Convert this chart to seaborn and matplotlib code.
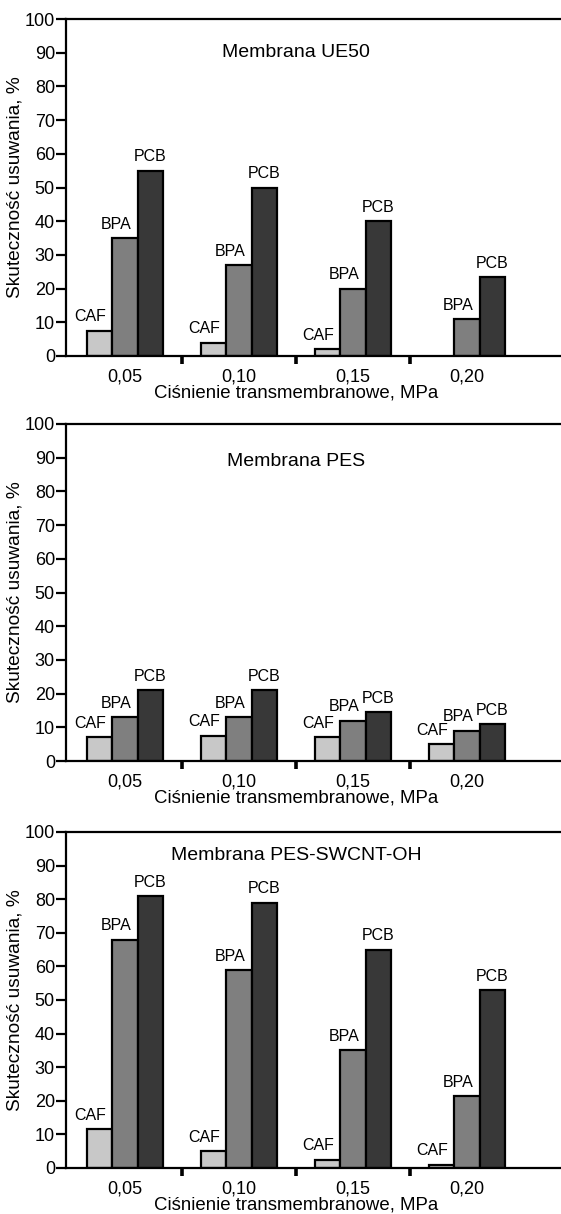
import matplotlib
matplotlib.use("Agg")
import matplotlib.pyplot as plt
import matplotlib.transforms as mtransforms
import pandas as pd
import seaborn as sns

# --- data ---
pressures = ["0,05", "0,10", "0,15", "0,20"]
compounds = ["CAF", "BPA", "PCB"]
titles = ["Membrana UE50", "Membrana PES", "Membrana PES-SWCNT-OH"]
title_y = [90, 89, 93]

ue50_caf = [7.5, 4.0, 2.0, float("nan")]
ue50_bpa = [35.0, 27.0, 20.0, 11.0]
ue50_pcb = [55.0, 50.0, 40.0, 23.5]

pes_caf = [7.0, 7.5, 7.0, 5.0]
pes_bpa = [13.0, 13.0, 12.0, 9.0]
pes_pcb = [21.0, 21.0, 14.5, 11.0]

swcnt_caf = [11.5, 5.0, 2.5, 1.0]
swcnt_bpa = [68.0, 59.0, 35.0, 21.5]
swcnt_pcb = [81.0, 79.0, 65.0, 53.0]

panels = [
    (ue50_caf, ue50_bpa, ue50_pcb),
    (pes_caf, pes_bpa, pes_pcb),
    (swcnt_caf, swcnt_bpa, swcnt_pcb),
]

colors = {"CAF": "#c8c8c8", "BPA": "#7f7f7f", "PCB": "#383838"}
label_dx = {"CAF": -6.5, "BPA": -6.5, "PCB": 0}

sns.set_style("white")
plt.rcParams["font.family"] = ["Liberation Sans", "DejaVu Sans"]
plt.rcParams["text.color"] = "black"
plt.rcParams["axes.labelcolor"] = "black"
plt.rcParams["xtick.color"] = "black"
plt.rcParams["ytick.color"] = "black"

W, H = 561, 1214
fig = plt.figure(figsize=(W / 100, H / 100), dpi=100)

# axes boxes in pixels: (top, bottom)
boxes = [(19, 356), (424, 761), (832, 1168)]
left_px = 66

for (caf, bpa, pcb), title, ty, (top, bot) in zip(panels, titles, title_y, boxes):
    ax = fig.add_axes([left_px / W, 1 - bot / H, 1 - left_px / W, (bot - top) / H])

    rows = []
    for name, vals in zip(compounds, (caf, bpa, pcb)):
        for p, v in zip(pressures, vals):
            rows.append({"pressure": p, "compound": name, "value": v})
    df = pd.DataFrame(rows)

    sns.barplot(data=df, x="pressure", y="value", hue="compound",
                order=pressures, hue_order=compounds, palette=colors,
                width=0.67, gap=0, edgecolor="black", linewidth=1.6,
                saturation=1, ax=ax, legend=False)

    for name, cont in zip(compounds, ax.containers):
        for bar in cont:
            h = bar.get_height()
            if h != h:
                continue
            ax.annotate(name, (bar.get_x() + bar.get_width() / 2, h),
                        xytext=(label_dx[name], 4.5), textcoords="offset points",
                        ha="center", va="bottom", fontsize=11.5)

    ax.set_xlim(-0.518, 3.825)
    ax.set_ylim(0, 100)
    ax.set_yticks(range(0, 101, 10))
    ax.text(1.5, ty, title, ha="center", va="center", fontsize=14)

    for s in ["left", "bottom", "top"]:
        ax.spines[s].set_visible(True)
        ax.spines[s].set_color("black")
        ax.spines[s].set_linewidth(1.6)
    ax.spines["right"].set_visible(False)

    ax.set_xticks([0.5, 1.5, 2.5], minor=True)
    ax.tick_params(axis="x", which="major", length=0, pad=9, labelsize=13)
    ax.tick_params(axis="x", which="minor", direction="out", length=6, width=2.6,
                   color="black", bottom=True)
    ax.tick_params(axis="y", which="major", direction="out", length=7, width=1.6,
                   color="black", pad=1, labelsize=13, left=True)

    ax.set_xlabel("Ciśnienie transmembranowe, MPa", fontsize=13.4)
    ax.set_ylabel("Skuteczność usuwania, %", fontsize=13.8)
    trans = mtransforms.blended_transform_factory(ax.transData, ax.transAxes)
    ax.xaxis.set_label_coords(1.5, -0.085, transform=trans)
    ax.yaxis.set_label_coords(-0.085, 0.5)

fig.savefig("out.png", dpi=100)
